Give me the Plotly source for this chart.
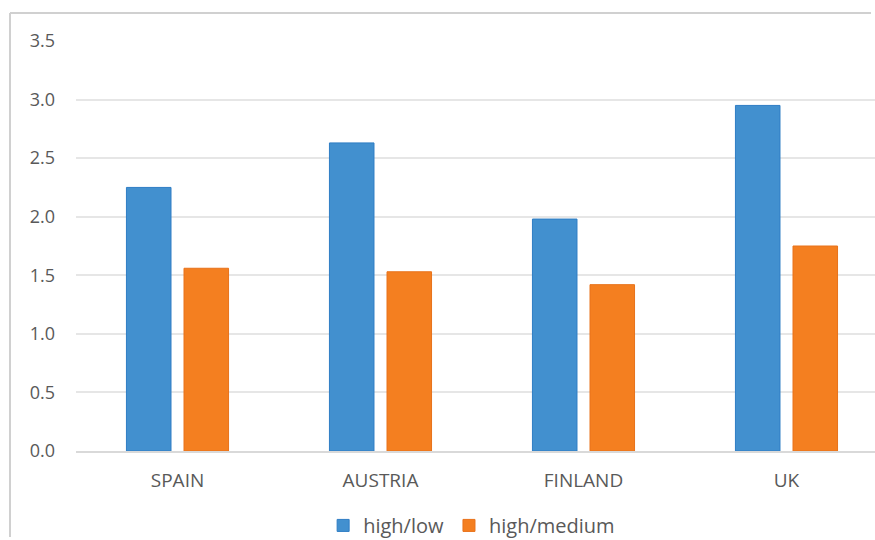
import plotly.graph_objects as go

categories = ["SPAIN", "AUSTRIA", "FINLAND", "UK"]
high_low = [2.25, 2.63, 1.98, 2.95]
high_medium = [1.56, 1.53, 1.42, 1.75]
y_ticks = [0, 0.5, 1.0, 1.5, 2.0, 2.5, 3.0, 3.5]

FONT = "Open Sans"
TXT = "#595959"
BORDER = "#d0d0d0"

fig = go.Figure()
fig.add_trace(go.Bar(
    x=categories, y=high_low, name="high/low",
    marker=dict(color="#4290CF", line=dict(color="#2E7DC4", width=1)),
))
fig.add_trace(go.Bar(
    x=categories, y=high_medium, name="high/medium",
    marker=dict(color="#F47F20", line=dict(color="#E8721A", width=1)),
))

fig.update_layout(
    width=875, height=540,
    margin=dict(l=76, r=0, t=41, b=89, autoexpand=False),
    paper_bgcolor="white", plot_bgcolor="white",
    barmode="group", bargap=0.433, bargroupgap=0.226,
    font=dict(family=FONT, size=16, color=TXT),
    showlegend=True,
    legend=dict(orientation="h", xref="container", yref="container",
                x=0.539, xanchor="center", y=0.027, yanchor="middle",
                font=dict(family=FONT, size=20, color=TXT),
                itemwidth=30, tracegroupgap=0,
                traceorder="normal", bgcolor="rgba(0,0,0,0)"),
    xaxis=dict(range=[-0.5, 3.436], showline=True, linecolor="#d9d9d9", linewidth=1.5,
               showgrid=False, ticks="", ticklabelstandoff=11, automargin=False,
               tickfont=dict(family=FONT, size=19, color=TXT)),
    yaxis=dict(range=[0, 3.5], tickvals=y_ticks, tickformat=".1f",
               showgrid=True, gridcolor="#e6e6e6", gridwidth=1.5,
               zeroline=False, ticks="", ticklabelstandoff=20, automargin=False,
               tickfont=dict(family=FONT, size=18, color=TXT)),
    shapes=[
        dict(type="line", xref="paper", yref="paper",
             x0=-0.0826, x1=-0.0826, y0=-0.21, y1=1.068,
             line=dict(color=BORDER, width=2), layer="below"),
        dict(type="line", xref="paper", yref="paper",
             x0=-0.0826, x1=0.995, y0=1.068, y1=1.068,
             line=dict(color=BORDER, width=2), layer="below"),
    ],
)

fig.write_html(
    "out.html",
    config={"displayModeBar": False},
    post_script="document.body.style.margin='0';document.documentElement.style.overflow='hidden';document.body.style.overflow='hidden';",
)
